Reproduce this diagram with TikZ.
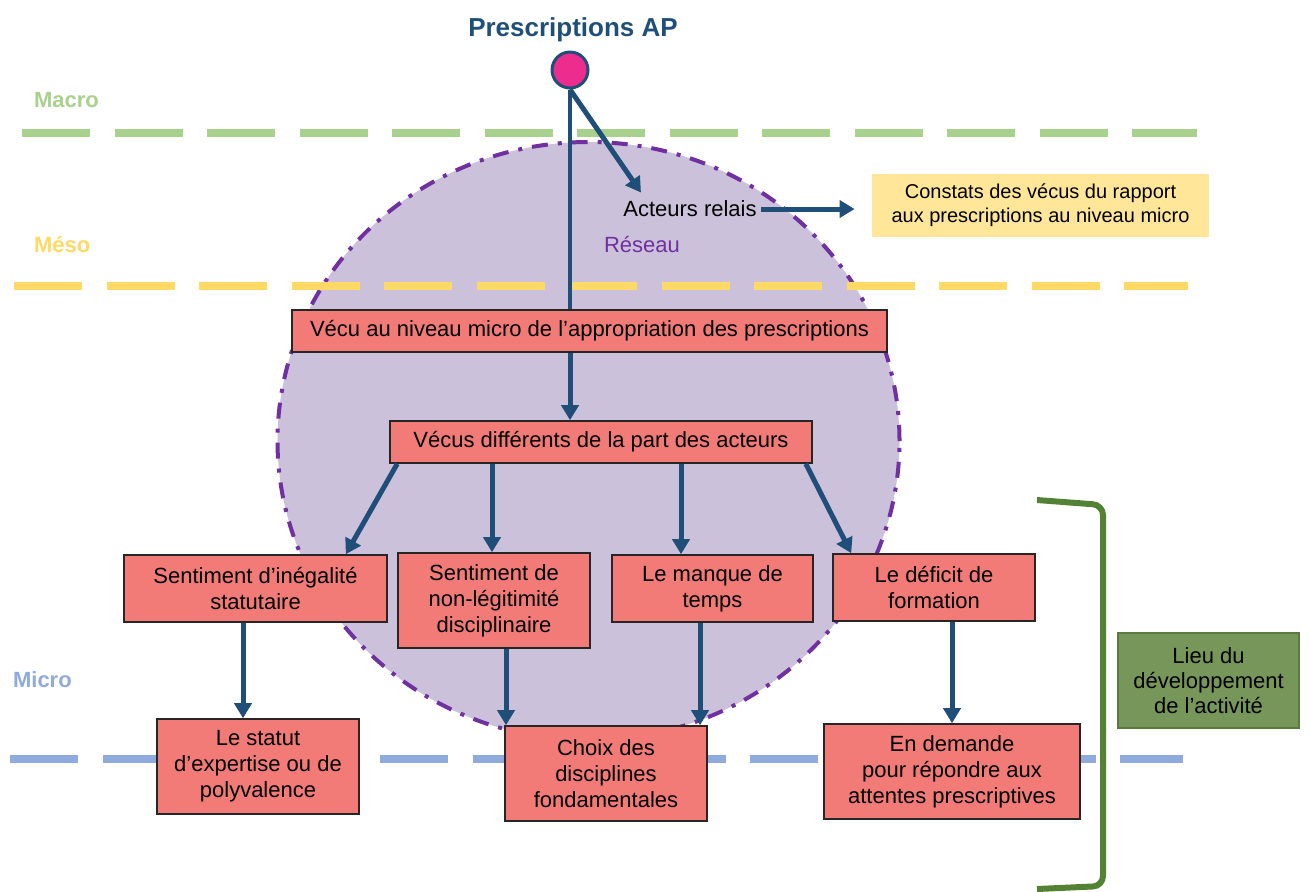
\documentclass[tikz,border=0pt]{standalone}
\usepackage{fontspec}
\setmainfont{Liberation Sans}
\usetikzlibrary{arrows.meta,positioning}

\begin{document}
\begin{tikzpicture}[
    x=0.5pt, y=-0.5pt,
    every node/.style={font=\fontsize{11}{13}\selectfont},
    box/.style={draw=black!85, line width=0.8pt, fill=salmon, inner sep=0pt, align=center},
    arr/.style={-{Triangle[length=7.5pt,width=8.5pt]}, line width=2.5pt, arrowblue},
    link/.style={line width=2pt, arrowblue},
    lvl/.style={line width=4pt, dash pattern=on 34pt off 12.25pt, #1},
  ]
    \definecolor{salmon}{HTML}{F27B78}
    \definecolor{arrowblue}{HTML}{1F4E79}
    \definecolor{macrocol}{HTML}{A9D18E}
    \definecolor{mesocol}{HTML}{FFD966}
    \definecolor{microcol}{HTML}{8FAADC}
    \definecolor{reseaufill}{HTML}{CCC1DA}
    \definecolor{reseaudraw}{HTML}{7030A0}
    \definecolor{apink}{HTML}{EC2D8E}
    \definecolor{constatfill}{HTML}{FFE699}
    \definecolor{lieufill}{HTML}{77965A}
    \definecolor{lieudraw}{HTML}{5A7A40}
    \definecolor{bracecol}{HTML}{548235}

    \useasboundingbox (0,0) rectangle (1309,891);

    % network area
    \draw[fill=reseaufill, draw=reseaudraw, line width=2pt, dash pattern=on 8pt off 5pt on 2pt off 5pt]
      (588.5,441) ellipse [x radius=155.5pt, y radius=149.5pt];

    % levels
    \draw[lvl=macrocol] (22,133) -- (1197,133);
    \draw[lvl=mesocol] (14,286) -- (1188,286);
    \draw[lvl=microcol] (10,759) -- (1183,759);
    \node[anchor=west, font=\bfseries\fontsize{11}{13}\selectfont, text=macrocol] (macro) at (27,100) {Macro};
    \node[anchor=west, font=\bfseries\fontsize{11}{13}\selectfont, text=mesocol] (meso) at (27,245) {Méso};
    \node[anchor=west, font=\bfseries\fontsize{11}{13}\selectfont, text=microcol] (micro) at (6,680) {Micro};

    % top of the chain
    \node[font=\bfseries\fontsize{13}{15}\selectfont, text=arrowblue] (titre) at (573,30) {Prescriptions AP};
    \node[circle, minimum size=18pt, inner sep=0pt, fill=apink, draw=arrowblue, line width=1.5pt] (AP) at (570,70) {};
    \node[inner sep=2pt] (relais) at (690,209) {Acteurs relais};
    \node[text=reseaudraw] (reseau) at (642,244) {Réseau};
    \node[fill=constatfill, inner sep=0pt, align=center, minimum width=168.5pt, minimum height=31.5pt,
          font=\fontsize{10}{12}\selectfont] (constats) at (1040.5,205.5)
      {Constats des vécus du rapport\\aux prescriptions au niveau micro};

    % boxes
    \node[box, minimum width=297.5pt, minimum height=21pt] (V1) at (589.5,331)
      {Vécu au niveau micro de l’appropriation des prescriptions};
    \node[box, minimum width=211pt, minimum height=21pt] (V2) at (601,442)
      {Vécus différents de la part des acteurs};

    \node[box, minimum width=131.5pt, minimum height=33.5pt] (S1) at (255.5,588.5) {Sentiment d’inégalité\\statutaire};
    \node[box, minimum width=96pt, minimum height=47.5pt] (S2) at (494,600.5) {Sentiment de\\non-légitimité\\disciplinaire};
    \node[box, minimum width=100.5pt, minimum height=33.5pt] (S3) at (712.5,588.5) {Le manque de\\temps};
    \node[box, minimum width=101pt, minimum height=33.5pt] (S4) at (934,587.5) {Le déficit de\\formation};

    \node[box, minimum width=101pt, minimum height=47.5pt] (C1) at (258,766.5) {Le statut\\d’expertise ou de\\polyvalence};
    \node[box, minimum width=101pt, minimum height=47.5pt] (C2) at (606,773.5) {Choix des\\disciplines\\fondamentales};
    \node[box, minimum width=128pt, minimum height=47.5pt] (C3) at (952,771.5) {En demande\\pour répondre aux\\attentes prescriptives};

    \node[fill=lieufill, draw=lieudraw, line width=0.6pt, inner sep=0pt, align=center, minimum width=90.5pt,
          minimum height=47.5pt, font=\fontsize{11}{12.5}\selectfont] (lieu) at (1208.5,680.5)
      {Lieu du\\développement\\de l’activité};

    % arrows
    \draw[link] (AP) -- (AP |- V1.north);
    \draw[arr] (AP.south) -- ([xshift=11pt,yshift=2pt]relais.north west);
    \draw[arr] (relais.east) -- ([xshift=-8.5pt,yshift=-1.75pt]constats.west);
    \draw[arr] (AP |- V1.south) -- (AP |- V2.north);

    \draw[arr] ([xshift=4pt]V2.south west) -- ([xshift=-21pt]S1.north east);
    \draw[arr] ([xshift=-54.5pt]V2.south) -- ([xshift=-1pt]S2.north);
    \draw[arr] ([xshift=40pt]V2.south) -- ([xshift=-15.75pt]S3.north);
    \draw[arr] ([xshift=-3.5pt]V2.south east) -- ([xshift=9.5pt]S4.north west);

    \draw[arr] ([xshift=-6.25pt]S1.south) -- ([xshift=-7.5pt]C1.north);
    \draw[arr] ([xshift=6pt]S2.south) -- ([xshift=-50pt]C2.north);
    \draw[arr] ([xshift=-6.25pt]S3.south) -- ([xshift=47pt]C2.north);
    \draw[arr] ([xshift=9pt]S4.south) -- (C3.north);

    % bracket
    \draw[bracecol, line width=3pt, rounded corners=5pt] (1037,500) -- (1103,505) -- (1103,886) -- (1037,889);
\end{tikzpicture}
\end{document}
